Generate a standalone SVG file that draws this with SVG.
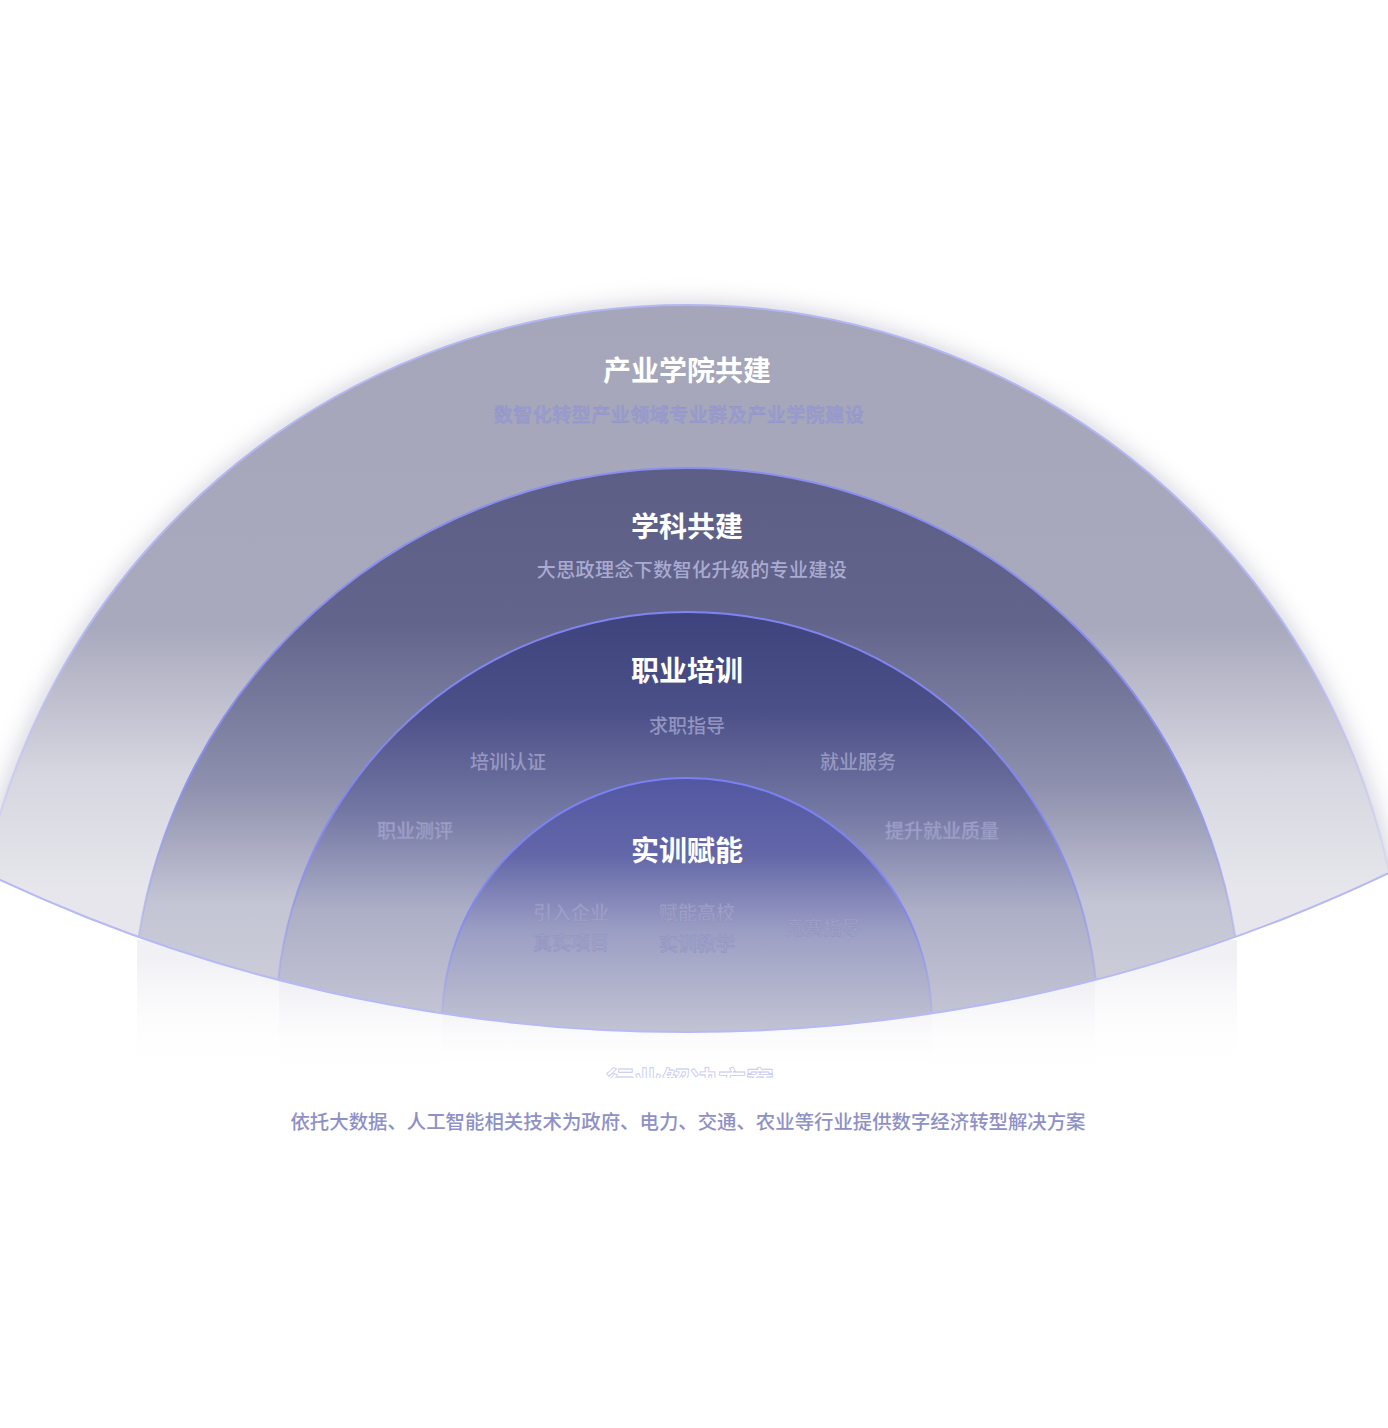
<svg xmlns="http://www.w3.org/2000/svg" width="1388" height="1428" viewBox="0 0 1388 1428">
<style>
.t{font-family:"Noto Sans CJK SC","Noto Sans",sans-serif;text-anchor:middle}
.title{font-size:28px;font-weight:700;fill:#ffffff}
.sub{font-size:19px;font-weight:500}
.lab{font-size:19px;font-weight:500}
.faint{fill:#a0a2cd;stroke:#9092bb;stroke-width:0.5}
.bottom{font-size:19.4px;font-weight:500;fill:#8e90c6}
</style>
<defs>
<clipPath id="bowl"><circle cx="687" cy="-596" r="1628"/></clipPath>
<clipPath id="ring1clip"><circle cx="687" cy="1023" r="718"/></clipPath>
<clipPath id="cut"><rect x="0" y="0" width="1388" height="1078"/></clipPath>
<filter id="shadow" x="-20%" y="-20%" width="140%" height="140%"><feGaussianBlur stdDeviation="12"/></filter>
<linearGradient id="g1" gradientUnits="userSpaceOnUse" x1="0" y1="305" x2="0" y2="890">
<stop offset="0" stop-color="#a5a6ba"/><stop offset="0.55" stop-color="#a8a9bd"/><stop offset="0.8" stop-color="#d6d6e0"/><stop offset="1" stop-color="#e6e6ec"/></linearGradient>
<linearGradient id="g2" gradientUnits="userSpaceOnUse" x1="0" y1="468" x2="0" y2="980">
<stop offset="0" stop-color="#5d5e86"/><stop offset="0.3" stop-color="#62648b"/><stop offset="0.62" stop-color="#8e90ae"/><stop offset="0.85" stop-color="#c4c5d4"/><stop offset="1" stop-color="#cbccd8"/></linearGradient>
<linearGradient id="g3" gradientUnits="userSpaceOnUse" x1="0" y1="612" x2="0" y2="1010">
<stop offset="0" stop-color="#3f437d"/><stop offset="0.25" stop-color="#4c5088"/><stop offset="0.5" stop-color="#7377a3"/><stop offset="0.75" stop-color="#adafc7"/><stop offset="1" stop-color="#c2c3d3"/></linearGradient>
<linearGradient id="g4" gradientUnits="userSpaceOnUse" x1="0" y1="778" x2="0" y2="1035">
<stop offset="0" stop-color="#5257a1"/><stop offset="0.3" stop-color="#6367a8"/><stop offset="0.6" stop-color="#9c9fc4"/><stop offset="1" stop-color="#c3c4d4"/></linearGradient>
<linearGradient id="s1" gradientUnits="userSpaceOnUse" x1="0" y1="305" x2="0" y2="890">
<stop offset="0" stop-color="#b4b7f6"/><stop offset="0.55" stop-color="#b4b7f6"/><stop offset="1" stop-color="#c8cbf4" stop-opacity="0.35"/></linearGradient>
<linearGradient id="s2" gradientUnits="userSpaceOnUse" x1="0" y1="468" x2="0" y2="970">
<stop offset="0" stop-color="#8a8ef2"/><stop offset="0.6" stop-color="#8a8ef2"/><stop offset="1" stop-color="#a9acef" stop-opacity="0.35"/></linearGradient>
<linearGradient id="s3" gradientUnits="userSpaceOnUse" x1="0" y1="612" x2="0" y2="1000">
<stop offset="0" stop-color="#7f84f2"/><stop offset="0.6" stop-color="#8589f0"/><stop offset="1" stop-color="#a5a8ee" stop-opacity="0.4"/></linearGradient>
<linearGradient id="s4" gradientUnits="userSpaceOnUse" x1="0" y1="778" x2="0" y2="1030">
<stop offset="0" stop-color="#7a7ff3"/><stop offset="0.55" stop-color="#8388f0"/><stop offset="1" stop-color="#aeb1ee" stop-opacity="0.35"/></linearGradient>
<linearGradient id="below" gradientUnits="userSpaceOnUse" x1="0" y1="960" x2="0" y2="1075">
<stop offset="0" stop-color="#d8d9e4" stop-opacity="0.6"/><stop offset="1" stop-color="#ffffff" stop-opacity="0"/></linearGradient>
</defs>
<rect width="1388" height="1428" fill="#ffffff"/>
<g id="shadow-layer">
<g clip-path="url(#bowl)" filter="url(#shadow)" opacity="0.5">
<circle cx="687" cy="1025" r="721" fill="#9a9bb0"/>
</g>
</g>
<g id="below-glow">
<rect x="137" y="940" width="1100" height="135" fill="url(#below)" opacity="0.6"/>
<rect x="279" y="960" width="816" height="115" fill="url(#below)" opacity="0.6"/>
<rect x="442" y="990" width="490" height="85" fill="url(#below)" opacity="0.7"/>
</g>
<g id="rings" clip-path="url(#bowl)">
<g id="ring1"><circle cx="687" cy="1023" r="718" fill="url(#g1)" stroke="url(#s1)" stroke-width="2"/></g>
<g id="ring2"><circle cx="687" cy="1023" r="555" fill="url(#g2)" stroke="url(#s2)" stroke-width="2"/></g>
<g id="ring3"><circle cx="687" cy="1023" r="411" fill="url(#g3)" stroke="url(#s3)" stroke-width="2"/></g>
<g id="ring4"><circle cx="687" cy="1023" r="245" fill="url(#g4)" stroke="url(#s4)" stroke-width="2"/></g>
</g>
<g id="bottom-edge" clip-path="url(#ring1clip)">
<circle cx="687" cy="-596" r="1628" fill="none" stroke="#b6b9f4" stroke-width="2"/>
</g>
<g id="n1">
<text class="t title" x="687" y="381">产业学院共建</text>
<text class="t sub" x="679" y="422" fill="#9b9dd5" stroke="#8f91c4" stroke-width="0.4" letter-spacing="0.5">数智化转型产业领域专业群及产业学院建设</text>
</g>
<g id="n2">
<text class="t title" x="687" y="537">学科共建</text>
<text class="t sub" x="692" y="577" fill="#a9abd1" letter-spacing="0.4">大思政理念下数智化升级的专业建设</text>
</g>
<g id="n3">
<text class="t title" x="687" y="681">职业培训</text>
<text class="t lab" x="687" y="733" fill="#9294c1">求职指导</text>
<text class="t lab" x="508" y="769" fill="#9698c2">培训认证</text>
<text class="t lab" x="858" y="769" fill="#9698c2">就业服务</text>
<text class="t lab faint" x="415" y="838">职业测评</text>
<text class="t lab faint" x="942" y="838">提升就业质量</text>
</g>
<g id="n4">
<text class="t title" x="687" y="861">实训赋能</text>
<text class="t lab faint" x="571" y="920">引入企业</text>
<text class="t lab faint" x="571" y="950">真实项目</text>
<text class="t lab faint" x="697" y="920">赋能高校</text>
<text class="t lab faint" x="697" y="951">实训教学</text>
<text class="t lab faint" x="823" y="935">竞赛指导</text>
</g>
<g id="n5">
<g clip-path="url(#cut)">
<text class="t title" x="690" y="1092" fill="#ffffff" stroke="#c5c8f2" stroke-width="0.8">行业解决方案</text>
</g>
<text class="t bottom" x="688" y="1129">依托大数据、人工智能相关技术为政府、电力、交通、农业等行业提供数字经济转型解决方案</text>
</g>
<g id="connectors"/>
</svg>
